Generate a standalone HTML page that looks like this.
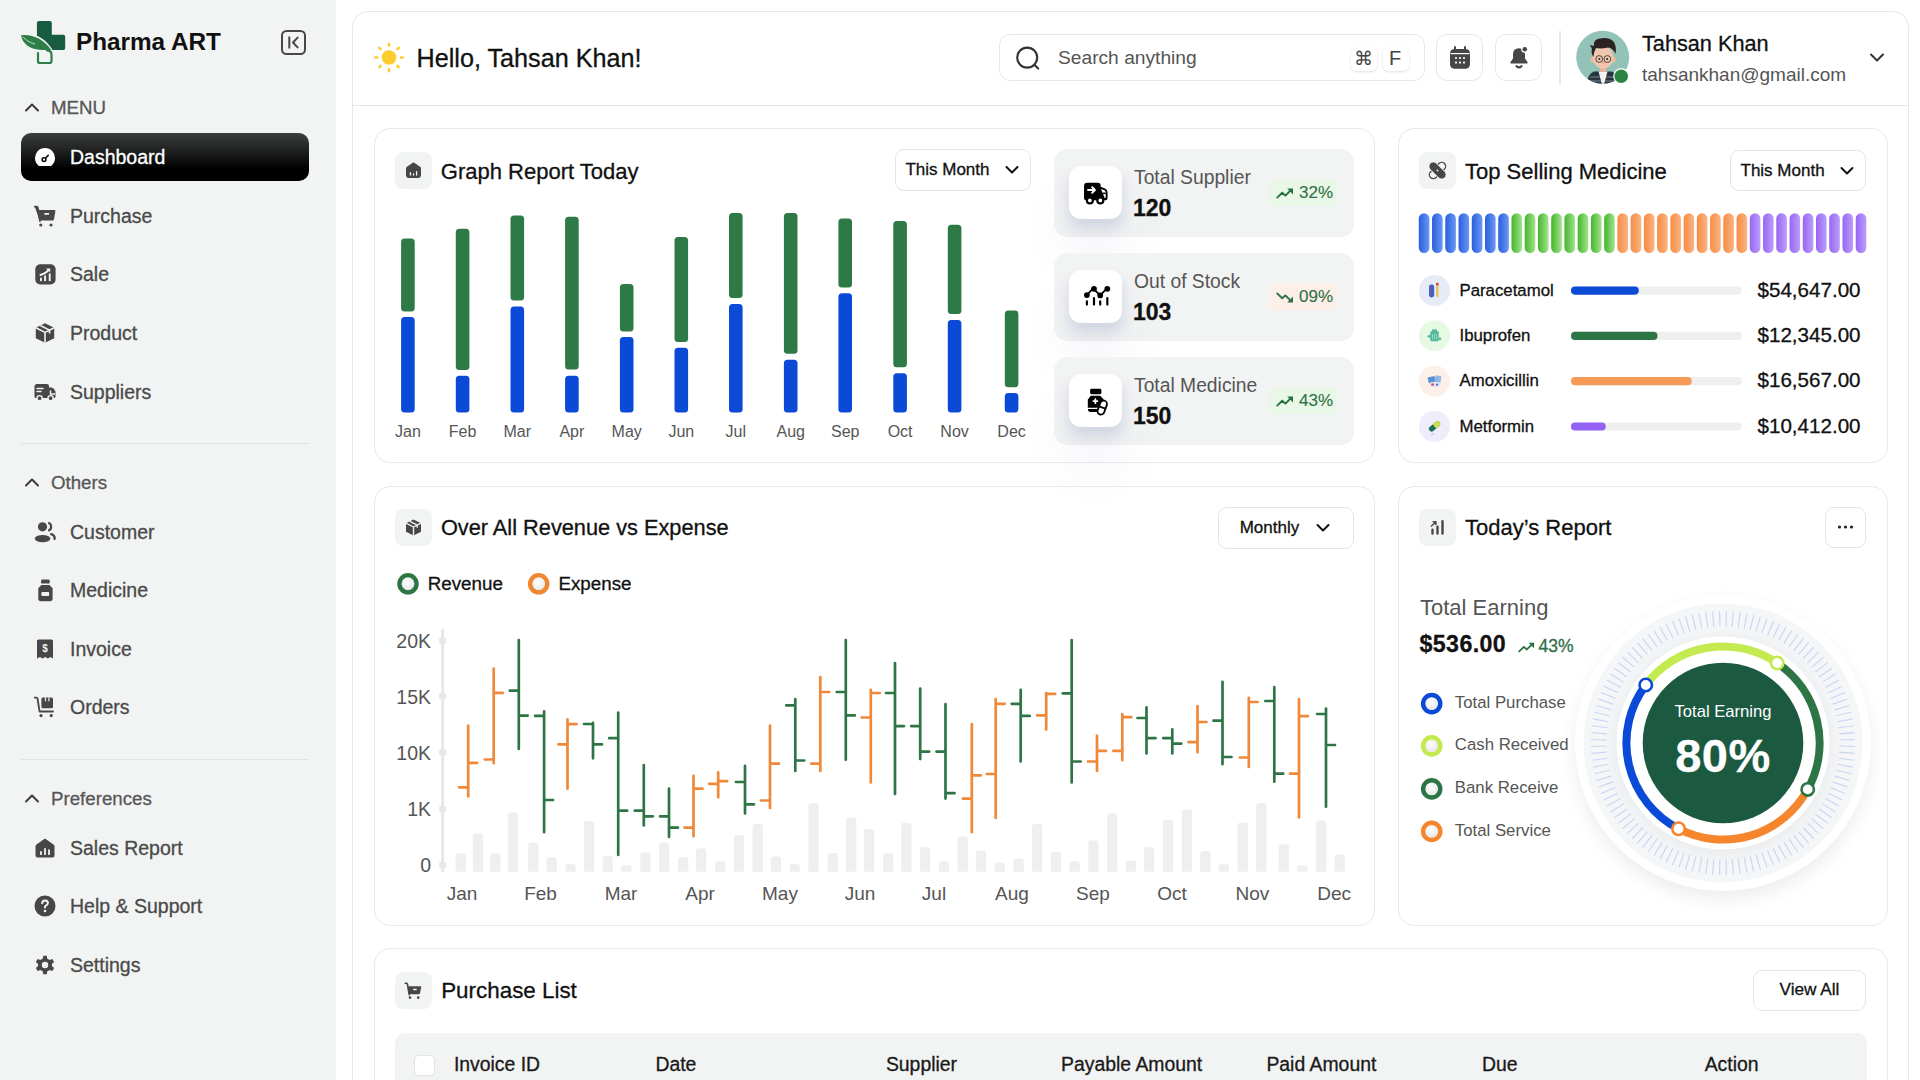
<!DOCTYPE html>
<html><head><meta charset="utf-8">
<style>
*{box-sizing:border-box;margin:0;padding:0}
html,body{width:1920px;height:1080px;overflow:hidden;background:#fff;font-family:"Liberation Sans",sans-serif;color:#111}
.a{position:absolute}
.t{position:absolute;white-space:nowrap;line-height:1;-webkit-text-stroke:0.3px currentColor}
#side{position:absolute;left:0;top:0;width:336px;height:1080px;background:#f2f4f3}
.nav{position:absolute;left:21px;width:288px;height:48px}
.nav svg{position:absolute;left:13px;top:13px;width:22px;height:22px}
.nav .t{left:49px;top:15px;font-size:19.5px;color:#4a4a4a}
.nav.active{background:linear-gradient(#3d3f3f,#000 75%);border-radius:10px}
.nav.active .t{color:#fff}
.sec{position:absolute;left:24px;width:280px;height:22px}
.sec svg{position:absolute;left:0;top:3px;width:16px;height:16px}
.sec .t{left:27px;top:3px;font-size:18.7px;color:#575757}
.sep{position:absolute;left:21px;width:288px;height:1px;background:#e2e4e3}
#main{position:absolute;left:352px;top:11px;width:1557px;height:1200px;border:1px solid #e6e8e7;border-radius:16px;background:#fff}
.card{position:absolute;border:1px solid #e8eaea;border-radius:16px;background:#fff}
.ibox{position:absolute;width:37px;height:37px;background:#f2f3f3;border-radius:8px}
.ibox svg{position:absolute;left:8px;top:8px;width:21px;height:21px}
.ttl{position:absolute;white-space:nowrap;line-height:1;font-size:22px;color:#111}
.dd{position:absolute;height:42px;border:1px solid #e3e5e4;border-radius:9px;background:#fff}
.dd .t{font-size:17px;color:#111}
.stat{position:absolute;z-index:2;left:1054px;width:300px;height:88px;background:#f2f3f3;border-radius:13px}
.sico{position:absolute;left:15px;top:17px;width:53px;height:53px;background:#fff;border-radius:12px;box-shadow:0 8px 14px rgba(100,110,180,.2),0 36px 50px rgba(100,110,170,.09)}
.sico svg{position:absolute;left:11px;top:11px;width:31px;height:31px}
.badge{position:absolute;left:215px;top:31px;width:68px;height:26px;border-radius:3px}
.badge svg{position:absolute;left:7px;top:7.5px;width:18px;height:11px}
.badge .t{left:30px;font-size:17px;color:#2f7044;-webkit-text-stroke:0.1px}
.t[style*="color:#555"]{-webkit-text-stroke:0}
</style></head>
<body>
<div id="side">
  <svg class="a" style="left:15px;top:15px" width="60" height="55" viewBox="0 0 60 55">
    <path d="M24,6 H34.8 Q36.8,6 36.8,8 V19.8 H48.2 Q50.2,19.8 50.2,21.8 V33.1 Q50.2,35.1 48.2,35.1 H37.6 C34,29 29,24 21.9,20.8 V8 Q21.9,6 24,6 Z" fill="#175c40"/>
    <path d="M6,20.3 C17,19 29,24 36.6,35.6 C33,35.2 30,35 27,35 C15,34.5 7.5,29 6,20.3 Z" fill="#2e7f47"/>
    <path d="M7.5,21.5 C11,25 15,28 20,29" fill="none" stroke="#bfe6c9" stroke-width="0.9"/>
    <path d="M23,37.2 V46.2 Q23,48 25,48 H34.6 Q36.5,48 36.5,46 V39.5 Q36.5,35.6 31,35.2" fill="none" stroke="#2e7f47" stroke-width="2.2"/>
  </svg>
  <div class="t" style="left:76px;top:30px;font-size:24.3px;font-weight:700;color:#111;-webkit-text-stroke:0">Pharma ART</div>
  <svg class="a" style="left:281px;top:30px" width="25" height="25" viewBox="0 0 25 25"><rect x="1" y="1" width="23" height="23" rx="4.5" fill="none" stroke="#474747" stroke-width="2"/><path d="M8.3,7.2v10.6M16.6,7.6l-4.6,4.9 4.6,4.9" fill="none" stroke="#474747" stroke-width="2" stroke-linecap="round" stroke-linejoin="round"/></svg>

  <div class="sec" style="top:96px"><svg viewBox="0 0 16 16"><path d="M2,11.5 L8,5.5 L14,11.5" fill="none" stroke="#3a3a3a" stroke-width="2" stroke-linecap="round" stroke-linejoin="round"/></svg><div class="t">MENU</div></div>

  <div class="nav active" style="top:133px"><svg viewBox="0 0 24 24" style="left:12px;top:12px;width:24px;height:24px"><path d="M6,21 A10,10 0 1 1 18,21 Z" fill="#fff"/><circle cx="11" cy="14.6" r="1.9" fill="none" stroke="#111" stroke-width="1.6"/><path d="M12.4,13.2 L15.2,10.4" stroke="#111" stroke-width="1.6" stroke-linecap="round"/></svg><div class="t">Dashboard</div></div>

  <div class="nav" style="top:192px"><svg viewBox="0 0 24 24" style="left:12px;top:12px;width:24px;height:24px"><path d="M1.8,2.6 H3.6 Q4.6,2.6 4.8,3.6 L5.2,6 H21.6 Q22.6,6 22.4,7 L21,15.2 Q20.8,16.4 19.6,16.4 H7.4 Q6.3,16.4 6.1,15.3 Z" fill="#474747"/><path d="M1.8,2.6 H3.6 Q4.6,2.6 4.8,3.6 L7,17" fill="none" stroke="#474747" stroke-width="1.8" stroke-linecap="round"/><rect x="11.2" y="9" width="5" height="1.8" rx=".9" fill="#f2f4f3"/><circle cx="7.8" cy="21" r="1.6" fill="#474747"/><circle cx="18" cy="21" r="1.6" fill="#474747"/></svg><div class="t">Purchase</div></div>

  <div class="nav" style="top:250px"><svg viewBox="0 0 24 24" style="left:12px;top:12px;width:24px;height:24px"><rect x="2.3" y="2.2" width="20.3" height="20.2" rx="5" fill="#474747"/><path d="M8,18.4V16.4M12.1,18.4V14.2M16.7,18.4V12.3" stroke="#f2f4f3" stroke-width="1.9" stroke-linecap="round"/><path d="M7.4,13 Q12.5,11.8 16,7.6" fill="none" stroke="#f2f4f3" stroke-width="1.8" stroke-linecap="round"/><path d="M13,6.4 H17.2 V10.6 Z" fill="#f2f4f3"/></svg><div class="t">Sale</div></div>

  <div class="nav" style="top:309px"><svg viewBox="0 0 24 24" style="left:12px;top:12px;width:24px;height:24px"><path d="M12,2.2 L21.2,6.8 V17.2 L12,21.8 L2.8,17.2 V6.8 Z" fill="#474747"/><path d="M2.8,6.8 L12,11.4 L21.2,6.8 M12,11.4 V21.8 M7.4,4.5 L16.6,9.1 V12.5" fill="none" stroke="#f2f4f3" stroke-width="1.6" stroke-linejoin="round"/></svg><div class="t">Product</div></div>

  <div class="nav" style="top:368px"><svg viewBox="0 0 24 24" style="left:12px;top:12px;width:24px;height:24px"><path d="M1.5,6.5 Q1.5,4 4,4 H14 Q16,4 16,6 V7.5 H18.5 Q20,7.5 21,9 L22.5,11.5 V16.5 Q22.5,18 21,18 H2.8 Q1.5,18 1.5,16.5 Z" fill="#474747"/><circle cx="6.6" cy="18.2" r="2.6" fill="#474747" stroke="#f2f4f3" stroke-width="1.4"/><circle cx="17.6" cy="18.2" r="2.6" fill="#474747" stroke="#f2f4f3" stroke-width="1.4"/><path d="M4,8.5 H10 M4,11.5 H8" stroke="#f2f4f3" stroke-width="1.5" stroke-linecap="round"/><path d="M17.5,10.5 V14 H22" fill="none" stroke="#f2f4f3" stroke-width="1.4"/></svg><div class="t">Suppliers</div></div>

  <div class="sep" style="top:443px"></div>
  <div class="sec" style="top:471px"><svg viewBox="0 0 16 16"><path d="M2,11.5 L8,5.5 L14,11.5" fill="none" stroke="#3a3a3a" stroke-width="2" stroke-linecap="round" stroke-linejoin="round"/></svg><div class="t">Others</div></div>

  <div class="nav" style="top:508px"><svg viewBox="0 0 24 24" style="left:12px;top:12px;width:24px;height:24px"><circle cx="9.5" cy="6.8" r="4.6" fill="#474747"/><ellipse cx="9.6" cy="18.6" rx="7.8" ry="3.6" fill="#474747"/><path d="M15.2,2.8 A4.2,4.2 0 0 1 15.2,10.8" fill="none" stroke="#474747" stroke-width="2.2"/><path d="M18.2,14.2 Q22,15.5 21.6,18.8" fill="none" stroke="#474747" stroke-width="2.4" stroke-linecap="round"/></svg><div class="t">Customer</div></div>

  <div class="nav" style="top:566px"><svg viewBox="0 0 24 24" style="left:12px;top:12px;width:24px;height:24px"><rect x="8.1" y="1.6" width="8.6" height="4" rx="1.2" fill="#474747"/><path d="M8.4,7.1 H16.6 L19.6,10.2 V20.6 Q19.6,23.2 17,23.2 H7.9 Q5.3,23.2 5.3,20.6 V10.2 Z" fill="#474747"/><rect x="8.4" y="14" width="7.8" height="4.1" rx="1" fill="#f2f4f3"/></svg><div class="t">Medicine</div></div>

  <div class="nav" style="top:625px"><svg viewBox="0 0 24 24" style="left:12px;top:12px;width:24px;height:24px"><path d="M5.5,2.5 H18.5 Q20,2.5 20,4 V21.5 L17.4,20 L14.8,21.5 L12.2,20 L9.6,21.5 L7,20 L4,21.5 V4 Q4,2.5 5.5,2.5 Z" fill="#474747"/><text x="12" y="15.4" font-family="Liberation Sans" font-weight="700" font-size="10" fill="#f2f4f3" text-anchor="middle">$</text></svg><div class="t">Invoice</div></div>

  <div class="nav" style="top:683px"><svg viewBox="0 0 24 24" style="left:12px;top:12px;width:24px;height:24px"><path d="M1.8,2.6 H3.4 Q4.3,2.6 4.5,3.5 L6.6,16.5 H20" fill="none" stroke="#474747" stroke-width="1.8" stroke-linecap="round" stroke-linejoin="round"/><rect x="8.4" y="2.6" width="11.6" height="10.6" rx="1.5" fill="#474747"/><path d="M12.5,2.6 V6.2 M15.9,2.6 V6.2" stroke="#f2f4f3" stroke-width="1.2"/><circle cx="8" cy="20.6" r="1.6" fill="#474747"/><circle cx="18.2" cy="20.6" r="1.6" fill="#474747"/></svg><div class="t">Orders</div></div>

  <div class="sep" style="top:759px"></div>
  <div class="sec" style="top:787px"><svg viewBox="0 0 16 16"><path d="M2,11.5 L8,5.5 L14,11.5" fill="none" stroke="#3a3a3a" stroke-width="2" stroke-linecap="round" stroke-linejoin="round"/></svg><div class="t">Preferences</div></div>

  <div class="nav" style="top:824px"><svg viewBox="0 0 24 24" style="left:12px;top:12px;width:24px;height:24px"><path d="M12,2.5 L20.5,8.6 Q21.5,9.3 21.5,10.5 V19.5 Q21.5,21.5 19.5,21.5 H4.5 Q2.5,21.5 2.5,19.5 V10.5 Q2.5,9.3 3.5,8.6 Z" fill="#474747"/><path d="M8,18.2 V15.8 M12,18.2 V12.8 M16,18.2 V14.2" stroke="#f2f4f3" stroke-width="1.8" stroke-linecap="round"/></svg><div class="t">Sales Report</div></div>

  <div class="nav" style="top:882px"><svg viewBox="0 0 24 24" style="left:12px;top:12px;width:24px;height:24px"><circle cx="12" cy="12" r="10.5" fill="#474747"/><path d="M9.2,9.3 Q9.2,6.4 12.1,6.4 Q14.9,6.4 14.9,9 Q14.9,10.8 12.8,11.7 Q12,12.1 12,13.4" fill="none" stroke="#f2f4f3" stroke-width="2" stroke-linecap="round"/><circle cx="12" cy="17" r="1.3" fill="#f2f4f3"/></svg><div class="t">Help &amp; Support</div></div>

  <div class="nav" style="top:941px"><svg viewBox="0 0 24 24" style="left:12px;top:12px;width:24px;height:24px"><path fill="#474747" d="M10.3,1.8 H13.7 L14.3,4.7 Q15.6,5.2 16.6,6 L19.4,5 L21.1,7.9 L18.9,9.9 Q19.1,11 18.9,12.1 L21.1,14.1 L19.4,17 L16.6,16 Q15.6,16.8 14.3,17.3 L13.7,20.2 H10.3 L9.7,17.3 Q8.4,16.8 7.4,16 L4.6,17 L2.9,14.1 L5.1,12.1 Q4.9,11 5.1,9.9 L2.9,7.9 L4.6,5 L7.4,6 Q8.4,5.2 9.7,4.7 Z" transform="translate(0,1)"/><circle cx="12" cy="12" r="3.2" fill="#f2f4f3"/></svg><div class="t">Settings</div></div>
</div>
<div id="main"></div>
<div class="a" style="left:353px;top:105px;width:1555px;height:1px;background:#e6e8e7"></div>
<svg class="a" style="left:371px;top:40px" width="36" height="36" viewBox="0 0 36 36">
  <circle cx="18" cy="17.5" r="7.3" fill="#fccc2e"/>
  <g stroke="#fccc2e" stroke-width="2.6" stroke-linecap="round">
    <path d="M18,3.8V5.6M18,29.4V31.2M4.3,17.5H6.1M29.9,17.5H31.7M8.3,7.8L9.6,9.1M26.4,25.9L27.7,27.2M8.3,27.2L9.6,25.9M26.4,9.1L27.7,7.8"/>
  </g>
</svg>
<div class="t" style="left:416.5px;top:46.3px;font-size:25.2px;color:#111">Hello, Tahsan Khan!</div>

<div class="a" style="left:999px;top:34px;width:426px;height:47px;border:1.5px solid #e6e8e7;border-radius:11px;background:#fff"></div>
<svg class="a" style="left:1014px;top:44px" width="28" height="28" viewBox="0 0 28 28"><circle cx="13.2" cy="13.6" r="10" fill="none" stroke="#333" stroke-width="2.1"/><path d="M20.6,21 L24.2,24.6" stroke="#333" stroke-width="2.1" stroke-linecap="round"/></svg>
<div class="t" style="left:1058px;top:48px;font-size:19.2px;color:#555">Search anything</div>
<div class="a" style="left:1351px;top:46px;width:26px;height:25px;border-radius:6px;background:#fff;box-shadow:0 1px 3px rgba(0,0,0,.12)"></div>
<div class="t" style="left:1354px;top:49px;font-size:19px;color:#444;-webkit-text-stroke:0">&#8984;</div>
<div class="a" style="left:1383px;top:46px;width:26px;height:25px;border-radius:6px;background:#fff;box-shadow:0 1px 3px rgba(0,0,0,.12)"></div>
<div class="t" style="left:1389px;top:48px;font-size:20px;color:#444;-webkit-text-stroke:0">F</div>

<div class="a" style="left:1436px;top:34px;width:47px;height:47px;border:1.5px solid #e6e8e7;border-radius:11px;background:#fff"></div>
<svg class="a" style="left:1448px;top:45px" width="24" height="26" viewBox="0 0 24 26"><rect x="2" y="4" width="20" height="19.8" rx="4.5" fill="#474747"/><path d="M7,2V6M17,2V6" stroke="#474747" stroke-width="2" stroke-linecap="round"/><path d="M2.5,8.6H21.5" stroke="#fff" stroke-width="1.2"/><g fill="#fff"><circle cx="8" cy="13" r="1.1"/><circle cx="12" cy="13" r="1.1"/><circle cx="16" cy="13" r="1.1"/><circle cx="8" cy="17.6" r="1.1"/><circle cx="12" cy="17.6" r="1.1"/><circle cx="16" cy="17.6" r="1.1"/></g></svg>

<div class="a" style="left:1495px;top:34px;width:47px;height:47px;border:1.5px solid #e6e8e7;border-radius:11px;background:#fff"></div>
<svg class="a" style="left:1507px;top:45px" width="24" height="26" viewBox="0 0 24 26"><path d="M12,3.2 Q6,3.2 6,9.5 V13.5 L3.4,17.2 Q2.8,18.6 4.4,18.6 H19.6 Q21.2,18.6 20.6,17.2 L18,13.5 V9.5 Q18,3.2 12,3.2 Z" fill="#474747"/><path d="M9.5,21.2 Q12,23.6 14.5,21.2" fill="none" stroke="#474747" stroke-width="2.2" stroke-linecap="round"/><circle cx="17.8" cy="4.2" r="3.6" fill="#fff"/><circle cx="17.8" cy="4.2" r="2.3" fill="#474747"/></svg>

<div class="a" style="left:1559px;top:31px;width:1.5px;height:53px;background:#e6e8e7"></div>

<svg class="a" style="left:1575px;top:30px" width="58" height="58" viewBox="0 0 58 58">
  <defs><clipPath id="avc"><circle cx="27.7" cy="27.3" r="26.5"/></clipPath></defs>
  <circle cx="27.7" cy="27.3" r="26.5" fill="#93c2b8"/>
  <g clip-path="url(#avc)">
    <path d="M11,58 Q12,44 19,41.5 L37,41.5 Q43,44 44,58 Z" fill="#27343d"/>
    <path d="M15,47 H41 M13,51 H43" stroke="#9fb0b8" stroke-width="1.2" opacity=".7"/>
    <path d="M23.5,41.5 L28,58 L32.5,41.5 Z" fill="#f2f2f2"/>
    <rect x="25" y="34" width="6" height="8" fill="#e7b59b"/>
    <ellipse cx="17.8" cy="29.6" rx="2.2" ry="3" fill="#eab79d"/><ellipse cx="38.6" cy="29.6" rx="2.2" ry="3" fill="#eab79d"/>
    <ellipse cx="28.2" cy="27.5" rx="10.4" ry="11" fill="#f1c6ad"/>
    <path d="M15,15 L19,16 Q18,9 25,8.5 Q33,6.5 38,11 Q42,15 40.5,24 Q38,18 33,17.5 Q26,19 21,18 Q19,21 18.5,27 Q15.5,22 17,19 Z" fill="#2b2322"/>
    <circle cx="24.2" cy="29" r="3.4" fill="none" stroke="#3b3b3b" stroke-width="0.9"/><circle cx="32.4" cy="29" r="3.4" fill="none" stroke="#3b3b3b" stroke-width="0.9"/>
    <circle cx="24.4" cy="29" r="1" fill="#222"/><circle cx="32.2" cy="29" r="1" fill="#222"/>
    <ellipse cx="28.4" cy="32.5" rx="1.2" ry="1" fill="#e8907c"/>
  </g>
  <circle cx="46.2" cy="46.2" r="8" fill="#fff"/><circle cx="46.2" cy="46.2" r="6.8" fill="#2d8340"/>
</svg>
<div class="t" style="left:1642px;top:33px;font-size:21.7px;color:#111">Tahsan Khan</div>
<div class="t" style="left:1642px;top:65px;font-size:19px;color:#555">tahsankhan@gmail.com</div>
<svg class="a" style="left:1867px;top:50px" width="20" height="16" viewBox="0 0 20 16"><path d="M4,4.5 L10,10.5 L16,4.5" fill="none" stroke="#333" stroke-width="2" stroke-linecap="round" stroke-linejoin="round"/></svg>
<div class="card" style="left:374px;top:128px;width:1001px;height:335px"></div>
<div class="ibox" style="left:395px;top:152px"><svg viewBox="0 0 21 21"><path d="M10.5,2.2 L17.4,7 Q18,7.5 18,8.3 V15.6 Q18,18 15.6,18 H5.4 Q3,18 3,15.6 V8.3 Q3,7.5 3.6,7 Z" fill="#474747"/><path d="M7.4,15 V12.6 M10.5,15 V13.8 M13.6,15 V11.6" stroke="#f2f3f3" stroke-width="1.3" stroke-linecap="round"/></svg></div>
<div class="t" style="left:440.8px;top:160.9px;font-size:22px;color:#111;font-weight:400;">Graph Report Today</div>
<div class="dd" style="left:895px;top:149px;width:136px;height:42px"></div>
<div class="t" style="left:905.4px;top:161.4px;font-size:17px;color:#111;font-weight:400;">This Month</div>
<svg class="a" style="left:1004px;top:165.0px" width="16" height="10" viewBox="0 0 15 10"><path d="M2,2 L7.5,7.5 L13,2" fill="none" stroke="#111" stroke-width="2" stroke-linecap="round" stroke-linejoin="round"/></svg>
<svg class="a" style="left:0;top:0" width="1920" height="1080"><rect x="401.1" y="238.4" width="13.6" height="73.0" rx="3.5" fill="#2e7a47"/><rect x="401.1" y="317.1" width="13.6" height="95.5" rx="3.5" fill="#0b4ad6"/><rect x="455.8" y="228.8" width="13.6" height="141.2" rx="3.5" fill="#2e7a47"/><rect x="455.8" y="375.7" width="13.6" height="36.9" rx="3.5" fill="#0b4ad6"/><rect x="510.5" y="215.6" width="13.6" height="85.0" rx="3.5" fill="#2e7a47"/><rect x="510.5" y="306.6" width="13.6" height="106.0" rx="3.5" fill="#0b4ad6"/><rect x="565.1" y="216.7" width="13.6" height="152.9" rx="3.5" fill="#2e7a47"/><rect x="565.1" y="375.7" width="13.6" height="36.9" rx="3.5" fill="#0b4ad6"/><rect x="619.9" y="284.0" width="13.6" height="47.4" rx="3.5" fill="#2e7a47"/><rect x="619.9" y="337.1" width="13.6" height="75.5" rx="3.5" fill="#0b4ad6"/><rect x="674.5" y="236.9" width="13.6" height="105.1" rx="3.5" fill="#2e7a47"/><rect x="674.5" y="347.7" width="13.6" height="64.9" rx="3.5" fill="#0b4ad6"/><rect x="729.0" y="213.1" width="13.6" height="85.0" rx="3.5" fill="#2e7a47"/><rect x="729.0" y="304.1" width="13.6" height="108.5" rx="3.5" fill="#0b4ad6"/><rect x="783.9" y="213.1" width="13.6" height="140.6" rx="3.5" fill="#2e7a47"/><rect x="783.9" y="359.7" width="13.6" height="52.9" rx="3.5" fill="#0b4ad6"/><rect x="838.4" y="218.4" width="13.6" height="69.1" rx="3.5" fill="#2e7a47"/><rect x="838.4" y="293.2" width="13.6" height="119.4" rx="3.5" fill="#0b4ad6"/><rect x="893.3" y="221.0" width="13.6" height="146.2" rx="3.5" fill="#2e7a47"/><rect x="893.3" y="373.2" width="13.6" height="39.4" rx="3.5" fill="#0b4ad6"/><rect x="947.8" y="224.8" width="13.6" height="89.2" rx="3.5" fill="#2e7a47"/><rect x="947.8" y="320.0" width="13.6" height="92.6" rx="3.5" fill="#0b4ad6"/><rect x="1004.8" y="310.5" width="13.6" height="76.8" rx="3.5" fill="#2e7a47"/><rect x="1004.8" y="393.0" width="13.6" height="19.6" rx="3.5" fill="#0b4ad6"/></svg>
<div class="t" style="left:377.9px;top:423.5px;width:60px;text-align:center;font-size:16px;color:#555">Jan</div>
<div class="t" style="left:432.6px;top:423.5px;width:60px;text-align:center;font-size:16px;color:#555">Feb</div>
<div class="t" style="left:487.3px;top:423.5px;width:60px;text-align:center;font-size:16px;color:#555">Mar</div>
<div class="t" style="left:541.9px;top:423.5px;width:60px;text-align:center;font-size:16px;color:#555">Apr</div>
<div class="t" style="left:596.7px;top:423.5px;width:60px;text-align:center;font-size:16px;color:#555">May</div>
<div class="t" style="left:651.3px;top:423.5px;width:60px;text-align:center;font-size:16px;color:#555">Jun</div>
<div class="t" style="left:705.8px;top:423.5px;width:60px;text-align:center;font-size:16px;color:#555">Jul</div>
<div class="t" style="left:760.7px;top:423.5px;width:60px;text-align:center;font-size:16px;color:#555">Aug</div>
<div class="t" style="left:815.2px;top:423.5px;width:60px;text-align:center;font-size:16px;color:#555">Sep</div>
<div class="t" style="left:870.1px;top:423.5px;width:60px;text-align:center;font-size:16px;color:#555">Oct</div>
<div class="t" style="left:924.6px;top:423.5px;width:60px;text-align:center;font-size:16px;color:#555">Nov</div>
<div class="t" style="left:981.6px;top:423.5px;width:60px;text-align:center;font-size:16px;color:#555">Dec</div>
<div class="stat" style="top:149px"><div class="sico"><svg viewBox="0 0 27 27"><path d="M3.5,7.8 Q3.5,5 6.3,5 H15.5 Q18,5 18,7.5 V8.6 L21.8,10 Q24,11 24,13.5 V18 Q24,20.3 21.8,20.3 H5.8 Q3.5,20.3 3.5,18 Z" fill="#000"/><path d="M18.3,10.4 L21.4,11.6 Q22.4,12.1 22.4,13.4 V17.4 Q22.4,18.4 21.6,18.6 Z" fill="#fff"/><path d="M19.8,14.2 H22.4" stroke="#000" stroke-width="1.3"/><path d="M7,11.3 H12.8 M10.6,8.9 L13,11.3 L10.6,13.7" fill="none" stroke="#fff" stroke-width="1.7" stroke-linecap="round" stroke-linejoin="round"/><circle cx="8.6" cy="20.4" r="2.6" fill="#fff" stroke="#000" stroke-width="1.9"/><circle cx="17.7" cy="20.4" r="2.6" fill="#fff" stroke="#000" stroke-width="1.9"/></svg></div><div class="t" style="left:80px;top:19.2px;font-size:19.3px;color:#555">Total Supplier</div><div class="t" style="left:79px;top:47.5px;font-size:23px;font-weight:700;color:#111">120</div><div class="badge" style="background:#e8f7e6"><svg viewBox="0 0 18 11"><path d="M1.2,9.6 L6.2,4.8 L9.4,7.6 L14.6,2.4" fill="none" stroke="#2a7042" stroke-width="1.9" stroke-linecap="round" stroke-linejoin="round"/><path d="M11.2,0.6 H17 V6.4 Z" fill="#2a7042"/></svg><div class="t" style="top:4.4px">32%</div></div></div>
<div class="stat" style="top:253px"><div class="sico"><svg viewBox="0 0 27 27"><path d="M6,12.3 L11.4,6.3 L17.6,12.6 L23.6,6.3" fill="none" stroke="#000" stroke-width="1.6"/><circle cx="6" cy="12.3" r="2.5" fill="#000"/><circle cx="12.2" cy="6.8" r="2.5" fill="#000"/><circle cx="17.6" cy="12.6" r="2.5" fill="#000"/><circle cx="23.8" cy="6.8" r="2.5" fill="#000"/><path d="M6,17.8V20.5 M12.2,14.8V20.5 M17.6,17.8V20.5 M23.8,14.8V20.5" stroke="#000" stroke-width="1.9" stroke-linecap="round"/></svg></div><div class="t" style="left:80px;top:19.2px;font-size:19.3px;color:#555">Out of Stock</div><div class="t" style="left:79px;top:47.5px;font-size:23px;font-weight:700;color:#111">103</div><div class="badge" style="background:#fcefe8"><svg viewBox="0 0 18 11"><path d="M1.2,1.4 L6.2,6.2 L9.4,3.4 L14.6,8.6" fill="none" stroke="#2a7042" stroke-width="1.9" stroke-linecap="round" stroke-linejoin="round"/><path d="M11.2,10.4 H17 V4.6 Z" fill="#2a7042"/></svg><div class="t" style="top:4.4px">09%</div></div></div>
<div class="stat" style="top:357px"><div class="sico"><svg viewBox="0 0 27 27"><rect x="8.8" y="3.3" width="9.8" height="4.8" rx="1.3" fill="#000"/><path d="M9.4,9.4 H17.6 L20.5,12.4 V14.8 L19,16 Q17.3,17.3 16.6,19.8 H6.8 V12.6 Z" fill="#000"/><path d="M11.6,14 H15.2 M13.4,12.2 V15.8" stroke="#fff" stroke-width="1.5" stroke-linecap="round"/><path d="M6.8,21 H15.3 V23.6 H8.6 Q6.8,23.2 6.8,21 Z" fill="#000"/><g transform="rotate(20 19.3 19.6)"><rect x="16.4" y="13.3" width="6" height="12.6" rx="3" fill="#fff" stroke="#000" stroke-width="1.6"/><path d="M16.4,19.6 H22.4" stroke="#000" stroke-width="1.6"/></g></svg></div><div class="t" style="left:80px;top:19.2px;font-size:19.3px;color:#555">Total Medicine</div><div class="t" style="left:79px;top:47.5px;font-size:23px;font-weight:700;color:#111">150</div><div class="badge" style="background:#e8f7e6"><svg viewBox="0 0 18 11"><path d="M1.2,9.6 L6.2,4.8 L9.4,7.6 L14.6,2.4" fill="none" stroke="#2a7042" stroke-width="1.9" stroke-linecap="round" stroke-linejoin="round"/><path d="M11.2,0.6 H17 V6.4 Z" fill="#2a7042"/></svg><div class="t" style="top:4.4px">43%</div></div></div>
<div class="card" style="left:1398px;top:128px;width:490px;height:335px"></div>
<div class="ibox" style="left:1419px;top:152px"><svg viewBox="0 0 21 21"><g transform="rotate(-45 10.5 10.5)"><rect x="0.6" y="6.6" width="19.8" height="7.8" rx="3.9" fill="#f2f3f3" stroke="#474747" stroke-width="1.3"/></g><g transform="rotate(45 10.5 10.5)"><rect x="0.2" y="6.1" width="20.6" height="8.8" rx="4.4" fill="#474747" stroke="#f2f3f3" stroke-width="0.9"/></g><circle cx="10.5" cy="10.5" r="0.9" fill="#f2f3f3"/></svg></div>
<div class="t" style="left:1465.0px;top:160.7px;font-size:22px;color:#111;font-weight:400;">Top Selling Medicine</div>
<div class="dd" style="left:1730px;top:150px;width:136px;height:41px"></div>
<div class="t" style="left:1740.5px;top:161.8px;font-size:17px;color:#111;font-weight:400;">This Month</div>
<svg class="a" style="left:1838.5px;top:165.5px" width="16" height="10" viewBox="0 0 15 10"><path d="M2,2 L7.5,7.5 L13,2" fill="none" stroke="#111" stroke-width="2" stroke-linecap="round" stroke-linejoin="round"/></svg>
<svg class="a" style="left:0;top:0" width="1920" height="1080"><defs><linearGradient id="pg0" x1="0" x2="1" y1="0" y2="0"><stop offset="0" stop-color="#2a5ee0"/><stop offset="1" stop-color="#6a98f2"/></linearGradient><linearGradient id="pg1" x1="0" x2="1" y1="0" y2="0"><stop offset="0" stop-color="#45b52c"/><stop offset="1" stop-color="#a2e38e"/></linearGradient><linearGradient id="pg2" x1="0" x2="1" y1="0" y2="0"><stop offset="0" stop-color="#f78c44"/><stop offset="1" stop-color="#fab483"/></linearGradient><linearGradient id="pg3" x1="0" x2="1" y1="0" y2="0"><stop offset="0" stop-color="#9866f4"/><stop offset="1" stop-color="#bb9ef9"/></linearGradient></defs><rect x="1418.80" y="213.2" width="10.6" height="39.8" rx="5.3" fill="url(#pg0)"/><rect x="1432.04" y="213.2" width="10.6" height="39.8" rx="5.3" fill="url(#pg0)"/><rect x="1445.28" y="213.2" width="10.6" height="39.8" rx="5.3" fill="url(#pg0)"/><rect x="1458.52" y="213.2" width="10.6" height="39.8" rx="5.3" fill="url(#pg0)"/><rect x="1471.76" y="213.2" width="10.6" height="39.8" rx="5.3" fill="url(#pg0)"/><rect x="1485.00" y="213.2" width="10.6" height="39.8" rx="5.3" fill="url(#pg0)"/><rect x="1498.24" y="213.2" width="10.6" height="39.8" rx="5.3" fill="url(#pg0)"/><rect x="1511.48" y="213.2" width="10.6" height="39.8" rx="5.3" fill="url(#pg1)"/><rect x="1524.72" y="213.2" width="10.6" height="39.8" rx="5.3" fill="url(#pg1)"/><rect x="1537.96" y="213.2" width="10.6" height="39.8" rx="5.3" fill="url(#pg1)"/><rect x="1551.20" y="213.2" width="10.6" height="39.8" rx="5.3" fill="url(#pg1)"/><rect x="1564.44" y="213.2" width="10.6" height="39.8" rx="5.3" fill="url(#pg1)"/><rect x="1577.68" y="213.2" width="10.6" height="39.8" rx="5.3" fill="url(#pg1)"/><rect x="1590.92" y="213.2" width="10.6" height="39.8" rx="5.3" fill="url(#pg1)"/><rect x="1604.16" y="213.2" width="10.6" height="39.8" rx="5.3" fill="url(#pg1)"/><rect x="1617.40" y="213.2" width="10.6" height="39.8" rx="5.3" fill="url(#pg2)"/><rect x="1630.64" y="213.2" width="10.6" height="39.8" rx="5.3" fill="url(#pg2)"/><rect x="1643.88" y="213.2" width="10.6" height="39.8" rx="5.3" fill="url(#pg2)"/><rect x="1657.12" y="213.2" width="10.6" height="39.8" rx="5.3" fill="url(#pg2)"/><rect x="1670.36" y="213.2" width="10.6" height="39.8" rx="5.3" fill="url(#pg2)"/><rect x="1683.60" y="213.2" width="10.6" height="39.8" rx="5.3" fill="url(#pg2)"/><rect x="1696.84" y="213.2" width="10.6" height="39.8" rx="5.3" fill="url(#pg2)"/><rect x="1710.08" y="213.2" width="10.6" height="39.8" rx="5.3" fill="url(#pg2)"/><rect x="1723.32" y="213.2" width="10.6" height="39.8" rx="5.3" fill="url(#pg2)"/><rect x="1736.56" y="213.2" width="10.6" height="39.8" rx="5.3" fill="url(#pg2)"/><rect x="1749.80" y="213.2" width="10.6" height="39.8" rx="5.3" fill="url(#pg3)"/><rect x="1763.04" y="213.2" width="10.6" height="39.8" rx="5.3" fill="url(#pg3)"/><rect x="1776.28" y="213.2" width="10.6" height="39.8" rx="5.3" fill="url(#pg3)"/><rect x="1789.52" y="213.2" width="10.6" height="39.8" rx="5.3" fill="url(#pg3)"/><rect x="1802.76" y="213.2" width="10.6" height="39.8" rx="5.3" fill="url(#pg3)"/><rect x="1816.00" y="213.2" width="10.6" height="39.8" rx="5.3" fill="url(#pg3)"/><rect x="1829.24" y="213.2" width="10.6" height="39.8" rx="5.3" fill="url(#pg3)"/><rect x="1842.48" y="213.2" width="10.6" height="39.8" rx="5.3" fill="url(#pg3)"/><rect x="1855.72" y="213.2" width="10.6" height="39.8" rx="5.3" fill="url(#pg3)"/><rect x="1571" y="286.5" width="171" height="8.2" rx="4.1" fill="#eef0ef"/><rect x="1571" y="286.5" width="67.8" height="8.2" rx="4.1" fill="#0b4ad6"/><rect x="1571" y="331.8" width="171" height="8.2" rx="4.1" fill="#eef0ef"/><rect x="1571" y="331.8" width="86.5" height="8.2" rx="4.1" fill="#2e7545"/><rect x="1571" y="377.1" width="171" height="8.2" rx="4.1" fill="#eef0ef"/><rect x="1571" y="377.1" width="120.7" height="8.2" rx="4.1" fill="#f89a57"/><rect x="1571" y="422.4" width="171" height="8.2" rx="4.1" fill="#eef0ef"/><rect x="1571" y="422.4" width="34.8" height="8.2" rx="4.1" fill="#9361f4"/><circle cx="1434.5" cy="290.5" r="15.6" fill="#e7ebf8"/><circle cx="1434.5" cy="335.8" r="15.6" fill="#e6f9e3"/><circle cx="1434.5" cy="381.1" r="15.6" fill="#fdf0e9"/><circle cx="1434.5" cy="426.4" r="15.6" fill="#f0ecfb"/><g transform="translate(1434.5,290.5)"><rect x="-5.5" y="-6" width="5.2" height="13" rx="2.4" fill="#3b63c9"/><path d="M-4,-3.5V4" stroke="#d94a4a" stroke-width="1.3" stroke-dasharray="1.2 1"/><rect x="1.6" y="-6.4" width="2.4" height="13" rx="1" fill="#e9c35a"/><circle cx="2.8" cy="-6.6" r="1.5" fill="#d9453e"/></g><g transform="translate(1434.5,335.8)"><rect x="-4.2" y="-4.5" width="8.4" height="10" rx="1.2" fill="#4fb69b"/><rect x="-2.4" y="-6.4" width="4.8" height="2.4" fill="#4fb69b"/><circle cx="-5.4" cy="0.5" r="1.4" fill="#4fb69b"/><circle cx="5.4" cy="3" r="1.4" fill="#4fb69b"/><path d="M-2,-2V3.5M0,-2V3.5M2,-2V3.5" stroke="#bde8d9" stroke-width="0.7"/></g><g transform="translate(1434.5,381.1)"><rect x="-6" y="-5" width="7" height="6" fill="#5b8fd6" transform="rotate(-12)"/><rect x="0" y="-6" width="6" height="7" fill="#8fb7e8" transform="rotate(10)"/><rect x="-4" y="1" width="9" height="5" fill="#e0e6f2"/><circle cx="-2" cy="3.5" r="1.3" fill="#e0465a"/><circle cx="2.5" cy="3.5" r="1.2" fill="#5b6fd6"/></g><g transform="translate(1434.5,426.4) rotate(-40)"><rect x="-6.5" y="-2.7" width="13" height="5.4" rx="2.7" fill="#1f6e5c"/><rect x="0" y="-2.7" width="6.5" height="5.4" rx="2.7" fill="#c9e24c"/><rect x="0" y="-2.7" width="2.7" height="5.4" fill="#c9e24c"/><rect x="-8" y="4" width="3" height="1.2" fill="#a9c8ee"/></g></svg>
<div class="t" style="left:1459.5px;top:282.8px;font-size:16.8px;color:#111;font-weight:400;">Paracetamol</div>
<div class="t" style="left:1757.5px;top:279.6px;font-size:20.6px;color:#111;font-weight:400;">$54,647.00</div>
<div class="t" style="left:1459.5px;top:328.1px;font-size:16.8px;color:#111;font-weight:400;">Ibuprofen</div>
<div class="t" style="left:1757.5px;top:325.0px;font-size:20.6px;color:#111;font-weight:400;">$12,345.00</div>
<div class="t" style="left:1459.5px;top:373.4px;font-size:16.8px;color:#111;font-weight:400;">Amoxicillin</div>
<div class="t" style="left:1757.5px;top:370.4px;font-size:20.6px;color:#111;font-weight:400;">$16,567.00</div>
<div class="t" style="left:1459.5px;top:418.7px;font-size:16.8px;color:#111;font-weight:400;">Metformin</div>
<div class="t" style="left:1757.5px;top:415.6px;font-size:20.6px;color:#111;font-weight:400;">$10,412.00</div>
<div class="card" style="left:374px;top:486px;width:1001px;height:440px"></div>
<div class="ibox" style="left:395px;top:509px"><svg viewBox="0 0 21 21"><path d="M10.5,2.4 L18,6.2 V14.8 L10.5,18.6 L3,14.8 V6.2 Z" fill="#474747"/><path d="M3,6.2 L10.5,10 L18,6.2 M10.5,10 V18.6 M6.8,4.3 L14.3,8.1 V10.8" fill="none" stroke="#f2f3f3" stroke-width="1.3" stroke-linejoin="round"/></svg></div>
<div class="t" style="left:440.9px;top:517.2px;font-size:21.75px;color:#111;font-weight:400;">Over All Revenue vs Expense</div>
<div class="dd" style="left:1218px;top:507px;width:136px;height:42px"></div>
<div class="t" style="left:1239.7px;top:518.5px;font-size:17px;color:#111;font-weight:400;">Monthly</div>
<svg class="a" style="left:1315px;top:523.0px" width="16" height="10" viewBox="0 0 15 10"><path d="M2,2 L7.5,7.5 L13,2" fill="none" stroke="#111" stroke-width="2" stroke-linecap="round" stroke-linejoin="round"/></svg>
<svg class="a" style="left:0;top:0" width="1920" height="1080"><defs><radialGradient id="lg" cx=".45" cy=".4" r=".6"><stop offset="0" stop-color="#fff"/><stop offset="1" stop-color="#dfe2e0"/></radialGradient></defs><circle cx="408" cy="583.8" r="8.6" fill="url(#lg)" stroke="#2e7545" stroke-width="4.3"/><circle cx="538.7" cy="583.8" r="8.6" fill="url(#lg)" stroke="#f0862f" stroke-width="4.3"/><path d="M442.6,630 V871" stroke="#e6e8e6" stroke-width="2.8" stroke-linecap="round"/><circle cx="442.6" cy="640.7" r="3.7" fill="#e6e8e6"/><circle cx="442.6" cy="696.3" r="3.7" fill="#e6e8e6"/><circle cx="442.6" cy="752.4" r="3.7" fill="#e6e8e6"/><circle cx="442.6" cy="808.9" r="3.7" fill="#e6e8e6"/><circle cx="442.6" cy="865" r="3.7" fill="#e6e8e6"/><path d="M455.6,871.7 V856.2 Q455.6,853.2 458.6,853.2 H462.9 Q465.9,853.2 465.9,856.2 V871.7 Z" fill="#eeefee"/><path d="M472.8,871.7 V836.3 Q472.8,833.3 475.8,833.3 H480.1 Q483.1,833.3 483.1,836.3 V871.7 Z" fill="#eeefee"/><path d="M490.3,871.7 V856.2 Q490.3,853.2 493.3,853.2 H497.6 Q500.6,853.2 500.6,856.2 V871.7 Z" fill="#eeefee"/><path d="M507.8,871.7 V815.2 Q507.8,812.2 510.8,812.2 H515.1 Q518.1,812.2 518.1,815.2 V871.7 Z" fill="#eeefee"/><path d="M528.1,871.7 V845.4 Q528.1,842.4 531.1,842.4 H535.4 Q538.4,842.4 538.4,845.4 V871.7 Z" fill="#eeefee"/><path d="M546.5,871.7 V860.0 Q546.5,857.0 549.5,857.0 H553.8 Q556.8,857.0 556.8,860.0 V871.7 Z" fill="#eeefee"/><path d="M565.3,871.7 V867.0 Q565.3,864.0 568.3,864.0 H572.6 Q575.6,864.0 575.6,867.0 V871.7 Z" fill="#eeefee"/><path d="M584.0,871.7 V824.0 Q584.0,821.0 587.0,821.0 H591.3 Q594.3,821.0 594.3,824.0 V871.7 Z" fill="#eeefee"/><path d="M602.5,871.7 V859.0 Q602.5,856.0 605.5,856.0 H609.8 Q612.8,856.0 612.8,859.0 V871.7 Z" fill="#eeefee"/><path d="M621.3,871.7 V868.0 Q621.3,865.0 624.3,865.0 H628.6 Q631.6,865.0 631.6,868.0 V871.7 Z" fill="#eeefee"/><path d="M640.3,871.7 V855.3 Q640.3,852.3 643.3,852.3 H647.6 Q650.6,852.3 650.6,855.3 V871.7 Z" fill="#eeefee"/><path d="M659.0,871.7 V845.4 Q659.0,842.4 662.0,842.4 H666.3 Q669.3,842.4 669.3,845.4 V871.7 Z" fill="#eeefee"/><path d="M678.0,871.7 V860.0 Q678.0,857.0 681.0,857.0 H685.3 Q688.3,857.0 688.3,860.0 V871.7 Z" fill="#eeefee"/><path d="M696.0,871.7 V851.3 Q696.0,848.3 699.0,848.3 H703.3 Q706.3,848.3 706.3,851.3 V871.7 Z" fill="#eeefee"/><path d="M715.0,871.7 V864.0 Q715.0,861.0 718.0,861.0 H722.3 Q725.3,861.0 725.3,864.0 V871.7 Z" fill="#eeefee"/><path d="M733.8,871.7 V838.0 Q733.8,835.0 736.8,835.0 H741.1 Q744.1,835.0 744.1,838.0 V871.7 Z" fill="#eeefee"/><path d="M752.6,871.7 V827.0 Q752.6,824.0 755.6,824.0 H759.9 Q762.9,824.0 762.9,827.0 V871.7 Z" fill="#eeefee"/><path d="M770.8,871.7 V859.4 Q770.8,856.4 773.8,856.4 H778.1 Q781.1,856.4 781.1,859.4 V871.7 Z" fill="#eeefee"/><path d="M789.6,871.7 V867.0 Q789.6,864.0 792.6,864.0 H796.9 Q799.9,864.0 799.9,867.0 V871.7 Z" fill="#eeefee"/><path d="M808.4,871.7 V806.2 Q808.4,803.2 811.4,803.2 H815.7 Q818.7,803.2 818.7,806.2 V871.7 Z" fill="#eeefee"/><path d="M827.5,871.7 V856.0 Q827.5,853.0 830.5,853.0 H834.8 Q837.8,853.0 837.8,856.0 V871.7 Z" fill="#eeefee"/><path d="M846.0,871.7 V820.4 Q846.0,817.4 849.0,817.4 H853.3 Q856.3,817.4 856.3,820.4 V871.7 Z" fill="#eeefee"/><path d="M864.0,871.7 V832.0 Q864.0,829.0 867.0,829.0 H871.3 Q874.3,829.0 874.3,832.0 V871.7 Z" fill="#eeefee"/><path d="M883.0,871.7 V856.0 Q883.0,853.0 886.0,853.0 H890.3 Q893.3,853.0 893.3,856.0 V871.7 Z" fill="#eeefee"/><path d="M901.2,871.7 V825.8 Q901.2,822.8 904.2,822.8 H908.5 Q911.5,822.8 911.5,825.8 V871.7 Z" fill="#eeefee"/><path d="M920.0,871.7 V850.0 Q920.0,847.0 923.0,847.0 H927.3 Q930.3,847.0 930.3,850.0 V871.7 Z" fill="#eeefee"/><path d="M938.8,871.7 V864.2 Q938.8,861.2 941.8,861.2 H946.1 Q949.1,861.2 949.1,864.2 V871.7 Z" fill="#eeefee"/><path d="M957.6,871.7 V839.2 Q957.6,836.2 960.6,836.2 H964.9 Q967.9,836.2 967.9,839.2 V871.7 Z" fill="#eeefee"/><path d="M975.8,871.7 V853.5 Q975.8,850.5 978.8,850.5 H983.1 Q986.1,850.5 986.1,853.5 V871.7 Z" fill="#eeefee"/><path d="M994.6,871.7 V865.5 Q994.6,862.5 997.6,862.5 H1001.9 Q1004.9,862.5 1004.9,865.5 V871.7 Z" fill="#eeefee"/><path d="M1013.5,871.7 V861.5 Q1013.5,858.5 1016.5,858.5 H1020.8 Q1023.8,858.5 1023.8,861.5 V871.7 Z" fill="#eeefee"/><path d="M1032.0,871.7 V827.1 Q1032.0,824.1 1035.0,824.1 H1039.3 Q1042.3,824.1 1042.3,827.1 V871.7 Z" fill="#eeefee"/><path d="M1050.8,871.7 V854.8 Q1050.8,851.8 1053.8,851.8 H1058.1 Q1061.1,851.8 1061.1,854.8 V871.7 Z" fill="#eeefee"/><path d="M1069.5,871.7 V864.2 Q1069.5,861.2 1072.5,861.2 H1076.8 Q1079.8,861.2 1079.8,864.2 V871.7 Z" fill="#eeefee"/><path d="M1088.3,871.7 V843.3 Q1088.3,840.3 1091.3,840.3 H1095.6 Q1098.6,840.3 1098.6,843.3 V871.7 Z" fill="#eeefee"/><path d="M1107.0,871.7 V816.4 Q1107.0,813.4 1110.0,813.4 H1114.3 Q1117.3,813.4 1117.3,816.4 V871.7 Z" fill="#eeefee"/><path d="M1125.8,871.7 V863.4 Q1125.8,860.4 1128.8,860.4 H1133.1 Q1136.1,860.4 1136.1,863.4 V871.7 Z" fill="#eeefee"/><path d="M1144.0,871.7 V850.0 Q1144.0,847.0 1147.0,847.0 H1151.3 Q1154.3,847.0 1154.3,850.0 V871.7 Z" fill="#eeefee"/><path d="M1162.9,871.7 V823.0 Q1162.9,820.0 1165.9,820.0 H1170.2 Q1173.2,820.0 1173.2,823.0 V871.7 Z" fill="#eeefee"/><path d="M1181.7,871.7 V812.4 Q1181.7,809.4 1184.7,809.4 H1189.0 Q1192.0,809.4 1192.0,812.4 V871.7 Z" fill="#eeefee"/><path d="M1200.2,871.7 V853.9 Q1200.2,850.9 1203.2,850.9 H1207.5 Q1210.5,850.9 1210.5,853.9 V871.7 Z" fill="#eeefee"/><path d="M1218.7,871.7 V867.2 Q1218.7,864.2 1221.7,864.2 H1226.0 Q1229.0,864.2 1229.0,867.2 V871.7 Z" fill="#eeefee"/><path d="M1237.6,871.7 V825.8 Q1237.6,822.8 1240.6,822.8 H1244.9 Q1247.9,822.8 1247.9,825.8 V871.7 Z" fill="#eeefee"/><path d="M1256.1,871.7 V806.1 Q1256.1,803.1 1259.1,803.1 H1263.4 Q1266.4,803.1 1266.4,806.1 V871.7 Z" fill="#eeefee"/><path d="M1278.7,871.7 V847.2 Q1278.7,844.2 1281.7,844.2 H1286.0 Q1289.0,844.2 1289.0,847.2 V871.7 Z" fill="#eeefee"/><path d="M1297.2,871.7 V868.3 Q1297.2,865.3 1300.2,865.3 H1304.5 Q1307.5,865.3 1307.5,868.3 V871.7 Z" fill="#eeefee"/><path d="M1316.1,871.7 V823.2 Q1316.1,820.2 1319.1,820.2 H1323.4 Q1326.4,820.2 1326.4,823.2 V871.7 Z" fill="#eeefee"/><path d="M1334.7,871.7 V857.4 Q1334.7,854.4 1337.7,854.4 H1342.0 Q1345.0,854.4 1345.0,857.4 V871.7 Z" fill="#eeefee"/><path d="M468.2,725.5 V796.5 M459.2,787.4 H468.2 M468.2,762.8 H477.2" stroke="#f0883a" stroke-width="2.7" stroke-linecap="round" fill="none"/><path d="M493.7,668.5 V763.2 M484.7,759.5 H493.7 M493.7,692.9 H502.7" stroke="#f0883a" stroke-width="2.7" stroke-linecap="round" fill="none"/><path d="M518.8,640.1 V748.9 M509.79999999999995,690.7 H518.8 M518.8,715.6 H527.8" stroke="#2e7545" stroke-width="2.7" stroke-linecap="round" fill="none"/><path d="M544.1,711.3 V832.2 M535.1,715.9 H544.1 M544.1,800.0 H553.1" stroke="#2e7545" stroke-width="2.7" stroke-linecap="round" fill="none"/><path d="M567.5,719.4 V788.7 M558.5,744.4 H567.5 M567.5,724.2 H576.5" stroke="#f0883a" stroke-width="2.7" stroke-linecap="round" fill="none"/><path d="M593.0,722.9 V758.3 M584.0,724.0 H593.0 M593.0,744.4 H602.0" stroke="#2e7545" stroke-width="2.7" stroke-linecap="round" fill="none"/><path d="M618.2,712.7 V855.0 M609.2,738.2 H618.2 M618.2,810.7 H627.2" stroke="#2e7545" stroke-width="2.7" stroke-linecap="round" fill="none"/><path d="M643.8,765.0 V825.5 M634.8,810.7 H643.8 M643.8,816.3 H652.8" stroke="#2e7545" stroke-width="2.7" stroke-linecap="round" fill="none"/><path d="M669.0,788.7 V837.0 M660.0,816.3 H669.0 M669.0,827.6 H678.0" stroke="#2e7545" stroke-width="2.7" stroke-linecap="round" fill="none"/><path d="M693.5,775.8 V836.2 M684.5,827.6 H693.5 M693.5,788.7 H702.5" stroke="#f0883a" stroke-width="2.7" stroke-linecap="round" fill="none"/><path d="M718.2,772.3 V797.3 M709.2,783.8 H718.2 M718.2,781.2 H727.2" stroke="#f0883a" stroke-width="2.7" stroke-linecap="round" fill="none"/><path d="M745.0,765.9 V813.4 M736.0,782.0 H745.0 M745.0,804.3 H754.0" stroke="#2e7545" stroke-width="2.7" stroke-linecap="round" fill="none"/><path d="M770.0,725.6 V808.0 M761.0,800.5 H770.0 M770.0,763.7 H779.0" stroke="#f0883a" stroke-width="2.7" stroke-linecap="round" fill="none"/><path d="M795.3,699.2 V771.0 M786.3,705.4 H795.3 M795.3,760.5 H804.3" stroke="#2e7545" stroke-width="2.7" stroke-linecap="round" fill="none"/><path d="M820.3,677.2 V771.0 M811.3,763.7 H820.3 M820.3,692.0 H829.3" stroke="#f0883a" stroke-width="2.7" stroke-linecap="round" fill="none"/><path d="M845.8,640.1 V759.7 M836.8,692.0 H845.8 M845.8,715.4 H854.8" stroke="#2e7545" stroke-width="2.7" stroke-linecap="round" fill="none"/><path d="M870.8,689.8 V782.5 M861.8,717.5 H870.8 M870.8,693.0 H879.8" stroke="#f0883a" stroke-width="2.7" stroke-linecap="round" fill="none"/><path d="M895.0,663.0 V794.0 M886.0,693.0 H895.0 M895.0,726.1 H904.0" stroke="#2e7545" stroke-width="2.7" stroke-linecap="round" fill="none"/><path d="M920.2,688.5 V759.1 M911.2,726.1 H920.2 M920.2,751.6 H929.2" stroke="#2e7545" stroke-width="2.7" stroke-linecap="round" fill="none"/><path d="M945.5,704.0 V798.6 M936.5,751.6 H945.5 M945.5,793.2 H954.5" stroke="#2e7545" stroke-width="2.7" stroke-linecap="round" fill="none"/><path d="M971.8,724.2 V832.2 M962.8,798.6 H971.8 M971.8,775.3 H980.8" stroke="#f0883a" stroke-width="2.7" stroke-linecap="round" fill="none"/><path d="M995.7,699.2 V818.0 M986.7,774.0 H995.7 M995.7,703.8 H1004.7" stroke="#f0883a" stroke-width="2.7" stroke-linecap="round" fill="none"/><path d="M1020.7,689.8 V761.5 M1011.7,703.8 H1020.7 M1020.7,715.9 H1029.7" stroke="#2e7545" stroke-width="2.7" stroke-linecap="round" fill="none"/><path d="M1046.2,693.0 V729.6 M1037.2,715.4 H1046.2 M1046.2,693.9 H1055.2" stroke="#f0883a" stroke-width="2.7" stroke-linecap="round" fill="none"/><path d="M1071.7,640.1 V782.5 M1062.7,693.3 H1071.7 M1071.7,761.5 H1080.7" stroke="#2e7545" stroke-width="2.7" stroke-linecap="round" fill="none"/><path d="M1097.0,735.5 V771.0 M1088.0,761.5 H1097.0 M1097.0,750.8 H1106.0" stroke="#f0883a" stroke-width="2.7" stroke-linecap="round" fill="none"/><path d="M1122.3,714.0 V760.2 M1113.3,750.8 H1122.3 M1122.3,717.2 H1131.3" stroke="#f0883a" stroke-width="2.7" stroke-linecap="round" fill="none"/><path d="M1146.5,707.3 V753.5 M1137.5,718.0 H1146.5 M1146.5,738.2 H1155.5" stroke="#2e7545" stroke-width="2.7" stroke-linecap="round" fill="none"/><path d="M1172.3,729.3 V753.5 M1163.3,738.2 H1172.3 M1172.3,743.6 H1181.3" stroke="#2e7545" stroke-width="2.7" stroke-linecap="round" fill="none"/><path d="M1197.5,706.0 V752.2 M1188.5,742.2 H1197.5 M1197.5,722.0 H1206.5" stroke="#f0883a" stroke-width="2.7" stroke-linecap="round" fill="none"/><path d="M1222.5,681.8 V764.2 M1213.5,720.7 H1222.5 M1222.5,757.0 H1231.5" stroke="#2e7545" stroke-width="2.7" stroke-linecap="round" fill="none"/><path d="M1248.8,697.9 V767.0 M1239.8,757.5 H1248.8 M1248.8,702.0 H1257.8" stroke="#f0883a" stroke-width="2.7" stroke-linecap="round" fill="none"/><path d="M1274.3,687.2 V781.7 M1265.3,701.0 H1274.3 M1274.3,773.6 H1283.3" stroke="#2e7545" stroke-width="2.7" stroke-linecap="round" fill="none"/><path d="M1299.0,699.2 V817.4 M1290.0,773.6 H1299.0 M1299.0,716.2 H1308.0" stroke="#f0883a" stroke-width="2.7" stroke-linecap="round" fill="none"/><path d="M1326.0,708.6 V806.7 M1317.0,714.0 H1326.0 M1326.0,745.0 H1335.0" stroke="#2e7545" stroke-width="2.7" stroke-linecap="round" fill="none"/></svg>
<div class="t" style="left:427.7px;top:575.1px;font-size:18.8px;color:#111;font-weight:400;">Revenue</div>
<div class="t" style="left:558.4px;top:575.1px;font-size:18.8px;color:#111;font-weight:400;">Expense</div>
<div class="t" style="left:371px;top:631.5px;width:60px;text-align:right;font-size:19.5px;color:#555">20K</div>
<div class="t" style="left:371px;top:687.5px;width:60px;text-align:right;font-size:19.5px;color:#555">15K</div>
<div class="t" style="left:371px;top:743.5px;width:60px;text-align:right;font-size:19.5px;color:#555">10K</div>
<div class="t" style="left:371px;top:800.0px;width:60px;text-align:right;font-size:19.5px;color:#555">1K</div>
<div class="t" style="left:371px;top:856.0px;width:60px;text-align:right;font-size:19.5px;color:#555">0</div>
<div class="t" style="left:422px;top:883.7px;width:80px;text-align:center;font-size:19px;color:#555">Jan</div>
<div class="t" style="left:500.5px;top:883.7px;width:80px;text-align:center;font-size:19px;color:#555">Feb</div>
<div class="t" style="left:581px;top:883.7px;width:80px;text-align:center;font-size:19px;color:#555">Mar</div>
<div class="t" style="left:660px;top:883.7px;width:80px;text-align:center;font-size:19px;color:#555">Apr</div>
<div class="t" style="left:740px;top:883.7px;width:80px;text-align:center;font-size:19px;color:#555">May</div>
<div class="t" style="left:820px;top:883.7px;width:80px;text-align:center;font-size:19px;color:#555">Jun</div>
<div class="t" style="left:894px;top:883.7px;width:80px;text-align:center;font-size:19px;color:#555">Jul</div>
<div class="t" style="left:972px;top:883.7px;width:80px;text-align:center;font-size:19px;color:#555">Aug</div>
<div class="t" style="left:1053px;top:883.7px;width:80px;text-align:center;font-size:19px;color:#555">Sep</div>
<div class="t" style="left:1132px;top:883.7px;width:80px;text-align:center;font-size:19px;color:#555">Oct</div>
<div class="t" style="left:1212.4px;top:883.7px;width:80px;text-align:center;font-size:19px;color:#555">Nov</div>
<div class="t" style="left:1294.2px;top:883.7px;width:80px;text-align:center;font-size:19px;color:#555">Dec</div>
<div class="card" style="left:1398px;top:486px;width:490px;height:440px"></div>
<div class="ibox" style="left:1419px;top:509px"><svg viewBox="0 0 21 21"><path d="M5.5,16.5 V12.6 M10.5,16.5 V9.6 M15.5,16.5 V4.2" stroke="#474747" stroke-width="2.4" stroke-linecap="round"/><path d="M4.4,9 L8.6,5.2 M6.2,4.8 H8.9 V7.5" fill="none" stroke="#474747" stroke-width="1.5" stroke-linecap="round" stroke-linejoin="round"/></svg></div>
<div class="t" style="left:1465.0px;top:517.0px;font-size:22px;color:#111;font-weight:400;">Today’s Report</div>
<div class="dd" style="left:1825px;top:507px;width:41px;height:41px"></div>
<svg class="a" style="left:1835px;top:522px" width="21" height="10" viewBox="0 0 21 10"><circle cx="4.5" cy="5" r="1.6" fill="#222"/><circle cx="10.5" cy="5" r="1.6" fill="#222"/><circle cx="16.5" cy="5" r="1.6" fill="#222"/></svg>
<div class="t" style="left:1420.0px;top:597.2px;font-size:22px;color:#555;font-weight:400;">Total Earning</div>
<div class="t" style="left:1419.5px;top:633.0px;font-size:23.2px;color:#111;font-weight:700;letter-spacing:0.4px">$536.00</div>
<svg class="a" style="left:1518px;top:642px" width="17" height="11" viewBox="0 0 18 11"><path d="M1.2,9.6 L6.2,4.8 L9.4,7.6 L14.6,2.4" fill="none" stroke="#2a7042" stroke-width="1.9" stroke-linecap="round" stroke-linejoin="round"/><path d="M11.2,0.6 H17 V6.4 Z" fill="#2a7042"/></svg>
<div class="t" style="left:1538.5px;top:637.8px;font-size:17.5px;color:#2f7044;font-weight:400;">43%</div>
<svg class="a" style="left:0;top:0" width="1920" height="1080"><defs><radialGradient id="lg2" cx=".45" cy=".4" r=".6"><stop offset="0" stop-color="#fff"/><stop offset="1" stop-color="#dfe2e0"/></radialGradient><filter id="sh" x="-30%" y="-30%" width="160%" height="160%"><feGaussianBlur stdDeviation="9"/></filter></defs><circle cx="1431.7" cy="703.6" r="8.6" fill="url(#lg2)" stroke="#0b4ad6" stroke-width="4.4"/><circle cx="1431.7" cy="745.9" r="8.6" fill="url(#lg2)" stroke="#c3ea4f" stroke-width="4.4"/><circle cx="1431.7" cy="788.9" r="8.6" fill="url(#lg2)" stroke="#2e7545" stroke-width="4.4"/><circle cx="1431.7" cy="831.4" r="8.6" fill="url(#lg2)" stroke="#f5862e" stroke-width="4.4"/><circle cx="1723" cy="751" r="148" fill="#000" opacity="0.07" filter="url(#sh)"/><circle cx="1723" cy="743" r="148" fill="#fff"/><circle cx="1723" cy="743" r="139.5" fill="#f5f6f7"/><path d="M1839.46,746.05L1854.95,746.46M1839.14,752.14L1854.59,753.36M1838.50,758.21L1853.87,760.23M1837.55,764.23L1852.79,767.06M1836.28,770.20L1851.35,773.81M1834.70,776.09L1849.56,780.49M1832.82,781.89L1847.43,787.06M1830.63,787.58L1844.95,793.51M1828.15,793.15L1842.14,799.83M1825.38,798.59L1839.00,805.98M1822.33,803.87L1835.55,811.97M1819.01,808.99L1831.78,817.77M1815.43,813.92L1827.72,823.36M1811.59,818.66L1823.37,828.73M1807.51,823.19L1818.75,833.86M1803.19,827.51L1813.86,838.75M1798.66,831.59L1808.73,843.37M1793.92,835.43L1803.36,847.72M1788.99,839.01L1797.77,851.78M1783.87,842.33L1791.97,855.55M1778.59,845.38L1785.98,859.00M1773.15,848.15L1779.83,862.14M1767.58,850.63L1773.51,864.95M1761.89,852.82L1767.06,867.43M1756.09,854.70L1760.49,869.56M1750.20,856.28L1753.81,871.35M1744.23,857.55L1747.06,872.79M1738.21,858.50L1740.23,873.87M1732.14,859.14L1733.36,874.59M1726.05,859.46L1726.46,874.95M1719.95,859.46L1719.54,874.95M1713.86,859.14L1712.64,874.59M1707.79,858.50L1705.77,873.87M1701.77,857.55L1698.94,872.79M1695.80,856.28L1692.19,871.35M1689.91,854.70L1685.51,869.56M1684.11,852.82L1678.94,867.43M1678.42,850.63L1672.49,864.95M1672.85,848.15L1666.17,862.14M1667.41,845.38L1660.02,859.00M1662.13,842.33L1654.03,855.55M1657.01,839.01L1648.23,851.78M1652.08,835.43L1642.64,847.72M1647.34,831.59L1637.27,843.37M1642.81,827.51L1632.14,838.75M1638.49,823.19L1627.25,833.86M1634.41,818.66L1622.63,828.73M1630.57,813.92L1618.28,823.36M1626.99,808.99L1614.22,817.77M1623.67,803.87L1610.45,811.97M1620.62,798.59L1607.00,805.98M1617.85,793.15L1603.86,799.83M1615.37,787.58L1601.05,793.51M1613.18,781.89L1598.57,787.06M1611.30,776.09L1596.44,780.49M1609.72,770.20L1594.65,773.81M1608.45,764.23L1593.21,767.06M1607.50,758.21L1592.13,760.23M1606.86,752.14L1591.41,753.36M1606.54,746.05L1591.05,746.46M1606.54,739.95L1591.05,739.54M1606.86,733.86L1591.41,732.64M1607.50,727.79L1592.13,725.77M1608.45,721.77L1593.21,718.94M1609.72,715.80L1594.65,712.19M1611.30,709.91L1596.44,705.51M1613.18,704.11L1598.57,698.94M1615.37,698.42L1601.05,692.49M1617.85,692.85L1603.86,686.17M1620.62,687.41L1607.00,680.02M1623.67,682.13L1610.45,674.03M1626.99,677.01L1614.22,668.23M1630.57,672.08L1618.28,662.64M1634.41,667.34L1622.63,657.27M1638.49,662.81L1627.25,652.14M1642.81,658.49L1632.14,647.25M1647.34,654.41L1637.27,642.63M1652.08,650.57L1642.64,638.28M1657.01,646.99L1648.23,634.22M1662.13,643.67L1654.03,630.45M1667.41,640.62L1660.02,627.00M1672.85,637.85L1666.17,623.86M1678.42,635.37L1672.49,621.05M1684.11,633.18L1678.94,618.57M1689.91,631.30L1685.51,616.44M1695.80,629.72L1692.19,614.65M1701.77,628.45L1698.94,613.21M1707.79,627.50L1705.77,612.13M1713.86,626.86L1712.64,611.41M1719.95,626.54L1719.54,611.05M1726.05,626.54L1726.46,611.05M1732.14,626.86L1733.36,611.41M1738.21,627.50L1740.23,612.13M1744.23,628.45L1747.06,613.21M1750.20,629.72L1753.81,614.65M1756.09,631.30L1760.49,616.44M1761.89,633.18L1767.06,618.57M1767.58,635.37L1773.51,621.05M1773.15,637.85L1779.83,623.86M1778.59,640.62L1785.98,627.00M1783.87,643.67L1791.97,630.45M1788.99,646.99L1797.77,634.22M1793.92,650.57L1803.36,638.28M1798.66,654.41L1808.73,642.63M1803.19,658.49L1813.86,647.25M1807.51,662.81L1818.75,652.14M1811.59,667.34L1823.37,657.27M1815.43,672.08L1827.72,662.64M1819.01,677.01L1831.78,668.23M1822.33,682.13L1835.55,674.03M1825.38,687.41L1839.00,680.02M1828.15,692.85L1842.14,686.17M1830.63,698.42L1844.95,692.49M1832.82,704.11L1847.43,698.94M1834.70,709.91L1849.56,705.51M1836.28,715.80L1851.35,712.19M1837.55,721.77L1852.79,718.94M1838.50,727.79L1853.87,725.77M1839.14,733.86L1854.59,732.64M1839.46,739.95L1854.95,739.54" stroke="#c9d6f3" stroke-width="1.15"/><circle cx="1723" cy="746" r="106.5" fill="#000" opacity="0.06" filter="url(#sh)"/><circle cx="1723" cy="743" r="106.5" fill="#fff"/><path d="M1678.54,828.76 A96.6,96.6 0 0 1 1645.75,685.00" fill="none" stroke="#0b4ad6" stroke-width="8"/><path d="M1645.75,685.00 A96.6,96.6 0 0 1 1777.16,663.01" fill="none" stroke="#c3ea4f" stroke-width="8"/><path d="M1777.16,663.01 A96.6,96.6 0 0 1 1807.73,789.39" fill="none" stroke="#2e7545" stroke-width="8"/><path d="M1807.73,789.39 A96.6,96.6 0 0 1 1678.54,828.76" fill="none" stroke="#f5862e" stroke-width="8"/><circle cx="1723" cy="743" r="80.3" fill="#1b5940"/><circle cx="1645.75" cy="685.00" r="6.2" fill="#fff" stroke="#0b4ad6" stroke-width="2.6"/><circle cx="1777.16" cy="663.01" r="6.2" fill="#fff" stroke="#c3ea4f" stroke-width="2.6"/><circle cx="1807.73" cy="789.39" r="6.2" fill="#fff" stroke="#2e7545" stroke-width="2.6"/><circle cx="1678.54" cy="828.76" r="6.2" fill="#fff" stroke="#f5862e" stroke-width="2.6"/></svg>
<div class="t" style="left:1454.8px;top:694.9px;font-size:16.8px;color:#555;font-weight:400;">Total Purchase</div>
<div class="t" style="left:1454.8px;top:737.3px;font-size:16.8px;color:#555;font-weight:400;">Cash Received</div>
<div class="t" style="left:1454.8px;top:780.3px;font-size:16.8px;color:#555;font-weight:400;">Bank Receive</div>
<div class="t" style="left:1454.8px;top:822.8px;font-size:16.8px;color:#555;font-weight:400;">Total Service</div>
<div class="t" style="left:1623px;top:704.1px;width:200px;text-align:center;font-size:16.6px;color:#fff;-webkit-text-stroke:0">Total Earning</div>
<div class="t" style="left:1623px;top:731.7px;width:200px;text-align:center;font-size:47px;letter-spacing:0.5px;font-weight:700;color:#fff">80%</div>
<div class="card" style="left:374px;top:948px;width:1514px;height:200px"></div>
<div class="ibox" style="left:395px;top:972px"><svg viewBox="0 0 21 21"><path d="M4.6,6.2 H17.6 Q18.4,6.2 18.2,7 L17,13.2 Q16.8,14.2 15.8,14.2 H6.6 Q5.7,14.2 5.5,13.3 Z" fill="#474747"/><path d="M2.2,3.2 H3.4 Q4.2,3.2 4.4,4 L6.2,14.6" fill="none" stroke="#474747" stroke-width="1.6" stroke-linecap="round"/><rect x="10" y="8.8" width="3.8" height="1.5" rx=".7" fill="#f2f3f3"/><circle cx="7" cy="17.6" r="1.3" fill="#474747"/><circle cx="15.2" cy="17.6" r="1.3" fill="#474747"/></svg></div>
<div class="t" style="left:441.2px;top:979.6px;font-size:22.4px;color:#111;font-weight:400;">Purchase List</div>
<div class="dd" style="left:1752.5px;top:969.5px;width:113.5px;height:41.5px"></div>
<div class="t" style="left:1779.5px;top:981.4px;font-size:17.2px;color:#111;font-weight:400;">View All</div>
<div class="a" style="left:395px;top:1033px;width:1472px;height:80px;background:#f2f3f3;border-radius:10px"></div>
<div class="a" style="left:415px;top:1056px;width:18.5px;height:18.5px;background:#fff;border-radius:4px;box-shadow:0 0 0 1px #e3e5e4,0 1px 2px rgba(0,0,0,.1)"></div>
<div class="t" style="left:453.9px;top:1055.2px;font-size:19.4px;color:#1a1a1a;font-weight:400;">Invoice ID</div>
<div class="t" style="left:655.4px;top:1055.2px;font-size:19.4px;color:#1a1a1a;font-weight:400;">Date</div>
<div class="t" style="left:885.9px;top:1055.2px;font-size:19.4px;color:#1a1a1a;font-weight:400;">Supplier</div>
<div class="t" style="left:1061.0px;top:1055.2px;font-size:19.4px;color:#1a1a1a;font-weight:400;">Payable Amount</div>
<div class="t" style="left:1266.4px;top:1055.2px;font-size:19.4px;color:#1a1a1a;font-weight:400;">Paid Amount</div>
<div class="t" style="left:1481.9px;top:1055.2px;font-size:19.4px;color:#1a1a1a;font-weight:400;">Due</div>
<div class="t" style="left:1704.7px;top:1055.2px;font-size:19.4px;color:#1a1a1a;font-weight:400;">Action</div>
</body></html>
